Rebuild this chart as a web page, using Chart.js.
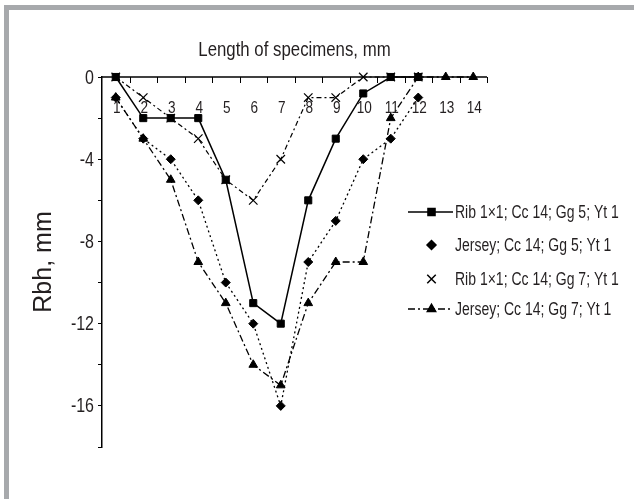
<!DOCTYPE html>
<html>
<head>
<meta charset="utf-8">
<title>Rbh vs length of specimens</title>
<script src="https://cdn.jsdelivr.net/npm/chart.js@4"></script>
<style>
    html, body { margin: 0; padding: 0; background: #fff; }
    .frame {
        position: absolute; left: 4px; top: 5px; width: 630px; height: 494px;
        border-left: 5px solid #a7a9ac; border-top: 5px solid #a7a9ac;
        box-sizing: border-box;
    }
    .wrap { position: absolute; left: 0; top: 0; width: 638px; height: 499px; }
</style>
</head>
<body>
<div class="frame"></div>
<div class="wrap"><canvas id="rbhChart" width="638" height="499"></canvas></div>
<script>
/* Rbh of specimens by length — line chart */

// ── Data ──
const lengths = ['1', '2', '3', '4', '5', '6', '7', '8', '9', '10', '11', '12', '13', '14'];
const ribGg5    = [0, -2, -2, -2, -5, -11, -12, -6, -3, -0.8, 0, 0, null, null];
const jerseyGg5 = [-1, -3, -4, -6, -10, -12, -16, -9, -7, -4, -3, -1, null, null];
const ribGg7    = [0, -1, -2, -3, -5, -6, -4, -1, -1, 0, 0, 0, null, null];
const jerseyGg7 = [-1, -3, -5, -9, -11, -14, -15, -11, -9, -9, -2, 0, 0, 0];
const yTicks = [0, -4, -8, -12, -16];

const seriesNames = [
    'Rib 1×1; Cc 14; Gg 5; Yt 1',
    'Jersey; Cc 14; Gg 5; Yt 1',
    'Rib 1×1; Cc 14; Gg 7; Yt 1',
    'Jersey; Cc 14; Gg 7; Yt 1'
];

const INK = '#231f20';
const SANS = "'Liberation Sans', Arial, sans-serif";

// ── Narrow text (no Arial Narrow here, so squeeze Liberation Sans) ──
function narrowText(ctx, text, x, y, size, align) {
    ctx.save();
    ctx.font = size + 'px ' + SANS;
    ctx.fillStyle = INK;
    ctx.textAlign = align;
    ctx.textBaseline = 'middle';
    ctx.translate(x, y);
    ctx.scale(0.8, 1);
    ctx.fillText(text, 0, 0);
    ctx.restore();
}

// ── Axis extras, title and legend drawn on top ──
const extrasPlugin = {
    id: 'extras',
    afterDraw(chart) {
        const { ctx, chartArea, scales } = chart;
        const x = scales.x, y = scales.y;
        const y0 = y.getPixelForValue(0);
        const step = x.getPixelForValue(1) - x.getPixelForValue(0);
        ctx.save();

        // x axis line at zero
        ctx.strokeStyle = '#000';
        ctx.lineWidth = 1.5;
        ctx.beginPath();
        ctx.moveTo(chartArea.left, y0);
        ctx.lineTo(chartArea.right, y0);
        ctx.stroke();

        // tick marks between categories, pointing down
        ctx.lineWidth = 1;
        lengths.forEach((_, i) => {
            const px = Math.round(x.getPixelForValue(i) + step / 2) + 0.5;
            ctx.beginPath();
            ctx.moveTo(px, y0);
            ctx.lineTo(px, y0 + 6);
            ctx.stroke();
        });

        // category labels under the axis line
        lengths.forEach((lab, i) => {
            narrowText(ctx, lab, x.getPixelForValue(i) + 1, y0 + 31, 17, 'center');
        });

        // y tick labels
        yTicks.forEach(v => {
            narrowText(ctx, String(v), 94, y.getPixelForValue(v) + 1, 20, 'right');
        });

        // axis title above
        narrowText(ctx, 'Length of specimens, mm', (chartArea.left + chartArea.right) / 2, 50, 21, 'center');

        // legend
        const lx0 = 408, lx1 = 453, tx = 455;
        const rows = [212, 245, 279, 309];
        chart.data.datasets.forEach((ds, i) => {
            const ry = rows[i];
            ctx.strokeStyle = '#000';
            ctx.fillStyle = '#000';
            if (ds.legendLine) {
                ctx.lineWidth = ds.borderWidth;
                ctx.setLineDash(ds.borderDash || []);
                ctx.beginPath();
                ctx.moveTo(lx0, ry);
                ctx.lineTo(lx1, ry);
                ctx.stroke();
                ctx.setLineDash([]);
            }
            Chart.helpers.drawPoint(ctx, {
                pointStyle: ds.pointStyle,
                radius: ds.pointRadius,
                borderWidth: ds.pointBorderWidth || 1,
                rotation: 0
            }, (lx0 + lx1) / 2 + 1, ry);
            ctx.fill();
            narrowText(ctx, ds.label, tx, ry + 1, 17.5, 'left');
        });
        ctx.restore();
    }
};

// ── Chart ──
const ctx = document.getElementById('rbhChart');
new Chart(ctx, {
    type: 'line',
    data: {
        labels: lengths,
        datasets: [{
            label: seriesNames[0],
            data: ribGg5,
            borderColor: '#000', backgroundColor: '#000',
            borderWidth: 1.5,
            pointStyle: 'rect', pointRadius: 5,
            pointBorderWidth: 1,
            legendLine: true
        }, {
            label: seriesNames[1],
            data: jerseyGg5,
            borderColor: '#000', backgroundColor: '#000',
            borderWidth: 1.3, borderDash: [2, 3],
            pointStyle: 'rectRot', pointRadius: 4.5,
            pointBorderWidth: 1,
            legendLine: false
        }, {
            label: seriesNames[2],
            data: ribGg7,
            borderColor: '#000', backgroundColor: '#000',
            borderWidth: 1.2, borderDash: [5, 3, 2, 3],
            pointStyle: 'crossRot', pointRadius: 6,
            pointBorderWidth: 1.2,
            legendLine: false
        }, {
            label: seriesNames[3],
            data: jerseyGg7,
            borderColor: '#000', backgroundColor: '#000',
            borderWidth: 1.3, borderDash: [7, 3, 2, 3],
            pointStyle: 'triangle', pointRadius: 5,
            pointBorderWidth: 1,
            legendLine: true
        }]
    },
    options: {
        responsive: false,
        animation: false,
        clip: false,
        layout: { padding: { top: 77, right: 151, bottom: 52, left: 0 } },
        plugins: {
            legend: { display: false },
            tooltip: { enabled: false },
            title: { display: false }
        },
        scales: {
            x: {
                type: 'category',
                offset: true,
                display: false
            },
            y: {
                min: -18, max: 0,
                afterFit: s => { s.width = 102; },
                ticks: {
                    stepSize: 2,
                    padding: 5,
                    callback: () => ''   // labels drawn narrow by the plugin
                },
                grid: { drawOnChartArea: false, tickLength: 4, color: '#000', lineWidth: 1 },
                border: { color: '#000', width: 1.5 },
                title: {
                    display: true,
                    text: 'Rbh, mm',
                    color: INK,
                    font: { size: 25, family: SANS },
                    padding: { top: 29, bottom: 0 }
                }
            }
        }
    },
    plugins: [extrasPlugin]
});
</script>
</body>
</html>
